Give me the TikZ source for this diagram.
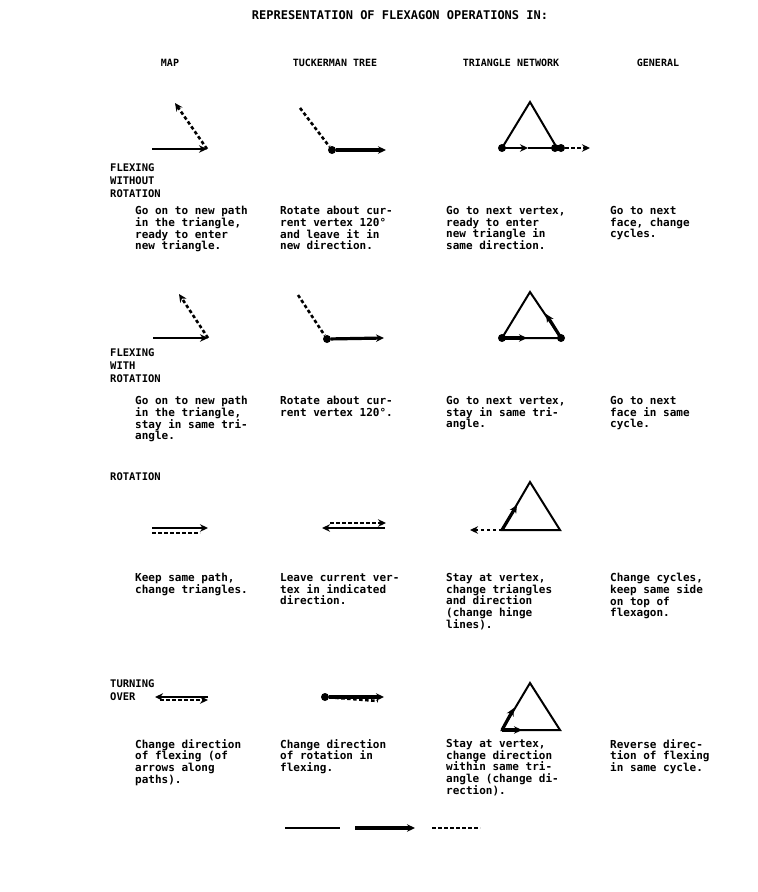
\documentclass[tikz,border=0pt]{standalone}
\usepackage{fontspec}
\setmonofont{DejaVu Sans Mono}
\usetikzlibrary{positioning, arrows.meta}
\tikzset{
  txt/.style     = {anchor=north west, align=left, inner sep=0pt,
                    font=\ttfamily\bfseries\fontsize{11}{11.8}\selectfont},
  rowlbl/.style  = {anchor=north west, align=left, inner sep=0pt,
                    font=\ttfamily\bfseries\fontsize{10.5}{13}\selectfont},
  colhead/.style = {inner sep=0pt, font=\ttfamily\bfseries\fontsize{10}{10}\selectfont},
  edge/.style    = {line width=2pt},
  heavy/.style   = {line width=3.2pt},
  dline/.style   = {line width=2.6pt, dash pattern=on 3.5pt off 2.5pt},
  tip/.style     = {-{Stealth[length=8pt,width=7.5pt]}},
  vtx/.style     = {circle, fill, inner sep=0pt, minimum size=8pt},
}
\begin{document}
\begin{tikzpicture}[x=1pt, y=-1pt]
  \useasboundingbox (0,0) rectangle (758,892);

  % title and column heads
  \node[colhead, font=\ttfamily\bfseries\fontsize{12}{13}\selectfont] (title) at (400,15) {REPRESENTATION OF FLEXAGON OPERATIONS IN:};
  \node[colhead] (hmap) at (170,63) {MAP};
  \node[colhead] (htree) at (335,63) {TUCKERMAN TREE};
  \node[colhead] (hnet) at (511,63) {TRIANGLE NETWORK};
  \node[colhead] (hgen) at (658,63) {GENERAL};

  % row labels
  \node[rowlbl] (r1) at (110,164) {FLEXING\\WITHOUT\\ROTATION};
  \node[rowlbl] (r2) at (110,348) {FLEXING\\WITH\\ROTATION};
  \node[rowlbl] (r3) at (110,472) {ROTATION};
  \node[rowlbl] (r4) at (110,679) {TURNING\\OVER};

  % row 1 : flexing without rotation
  \draw[edge, tip] (152,149) -- (207,149);
  \draw[dline, tip] (207,149) -- (175,103);

  \node[vtx] (t1) at (332,150) {};
  \draw[dline] (300,108) -- (t1);
  \draw[heavy, tip] (t1) -- (386,150);

  \coordinate (a1) at (502,148);
  \coordinate (b1) at (530,102);
  \coordinate (c1) at (557,148);
  \draw[edge] (a1) -- (b1) -- (c1);
  \draw[edge, tip] (a1) -- (528,148);
  \draw[edge] (528,148) -- (c1);
  \node[vtx] (p1) at (a1) {};
  \node[vtx] (q1) at (555,148) {};
  \node[vtx] (s1) at (561,148) {};
  \draw[dline, tip] (s1) -- (590,148);

  \node[txt] (m1) at (135,206) {Go on to new path\\in the triangle,\\ready to enter\\new triangle.};
  \node[txt] (k1) at (280,206) {Rotate about cur-\\rent vertex 120°\\and leave it in\\new direction.};
  \node[txt] (n1) at (446,206) {Go to next vertex,\\ready to enter\\new triangle in\\same direction.};
  \node[txt] (g1) at (610,206) {Go to next\\face, change\\cycles.};

  % row 2 : flexing with rotation
  \draw[edge, tip] (153,338) -- (208,338);
  \draw[dline, tip] (208,338) -- (179,294);

  \node[vtx] (t2) at (327,339) {};
  \draw[dline] (298,295) -- (t2);
  \draw[heavy, tip] (t2) -- (384,338);

  \coordinate (a2) at (502,338);
  \coordinate (b2) at (530,292);
  \coordinate (c2) at (561,338);
  \draw[edge] (a2) -- (b2) -- (c2) -- cycle;
  \draw[heavy, tip] (a2) -- (527,338);
  \draw[heavy, tip] (c2) -- (546,314);
  \node[vtx] (p2) at (a2) {};
  \node[vtx] (q2) at (c2) {};

  \node[txt] (m2) at (135,396) {Go on to new path\\in the triangle,\\stay in same tri-\\angle.};
  \node[txt] (k2) at (280,396) {Rotate about cur-\\rent vertex 120°.};
  \node[txt] (n2) at (446,396) {Go to next vertex,\\stay in same tri-\\angle.};
  \node[txt] (g2) at (610,396) {Go to next\\face in same\\cycle.};

  % row 3 : rotation
  \draw[edge, tip] (152,528) -- (208,528);
  \draw[dline] (152,533) -- (200,533);

  \draw[edge, tip] (385,528) -- (322,528);
  \draw[dline, tip] (330,523) -- (386,523);

  \coordinate (a3) at (502,530);
  \coordinate (b3) at (530,482);
  \coordinate (c3) at (560,530);
  \draw[edge] (a3) -- (b3) -- (c3) -- cycle;
  \draw[heavy, tip] (a3) -- (517,505);
  \draw[dline, tip] (a3) -- (470,530);

  \node[txt] (m3) at (135,573) {Keep same path,\\change triangles.};
  \node[txt] (k3) at (280,573) {Leave current ver-\\tex in indicated\\direction.};
  \node[txt] (n3) at (446,573) {Stay at vertex,\\change triangles\\and direction\\(change hinge\\lines).};
  \node[txt] (g3) at (610,573) {Change cycles,\\keep same side\\on top of\\flexagon.};

  % row 4 : turning over
  \draw[edge, tip] (208,697) -- (155,697);
  \draw[dline, tip] (160,700) -- (208,700);

  \node[vtx] (t4) at (325,697) {};
  \draw[heavy, tip] (t4) -- (384,697);
  \draw[dline] (t4) -- (378,701);

  \coordinate (a4) at (502,730);
  \coordinate (b4) at (530,683);
  \coordinate (c4) at (560,730);
  \draw[edge] (a4) -- (b4) -- (c4) -- cycle;
  \draw[heavy, tip] (a4) -- (514,708);
  \draw[heavy, tip] (a4) -- (522,730);

  \node[txt] (m4) at (135,739) {Change direction\\of flexing (of\\arrows along\\paths).};
  \node[txt] (k4) at (280,739) {Change direction\\of rotation in\\flexing.};
  \node[txt] (n4) at (446,739) {Stay at vertex,\\change direction\\within same tri-\\angle (change di-\\rection).};
  \node[txt] (g4) at (610,739) {Reverse direc-\\tion of flexing\\in same cycle.};

  % legend
  \draw[edge] (285,828) -- (340,828);
  \draw[heavy, tip] (355,828) -- (415,828);
  \draw[dline] (432,828) -- (480,828);
\end{tikzpicture}
\end{document}
